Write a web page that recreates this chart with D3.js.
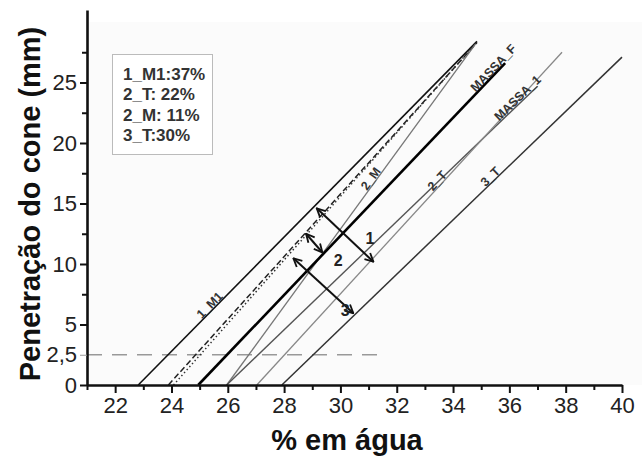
<!DOCTYPE html>
<html>
<head>
<meta charset="utf-8">
<script src="https://cdn.jsdelivr.net/npm/d3@7"></script>
<style>
  body { margin: 0; background: #fff; }
  svg { display: block; font-family: 'Liberation Sans', Arial, sans-serif; }
</style>
</head>
<body>
<svg width="642" height="461"></svg>
<script>
// cone penetration lines: % water where penetration = 0, and upper end point
const lineNames = ['1_M1', 'dash', 'dot', '2_M', 'MASSA_F', 'MASSA_1', '2_T', '3_T'];
const lineLabels = ['1_M1', '', '', '2_M', 'MASSA_F', 'MASSA_1', '2_T', '3_T'];
const startX = [22.82, 23.89, 24.07, 25.96, 24.95, 25.96, 27.03, 27.92];
const endX = [34.85, 34.85, 34.8, 34.8, 35.85, 37.0, 37.87, 40.0];
const endY = [28.4, 28.3, 28.2, 28.2, 26.6, 24.7, 27.5, 27.1];
const labelY = [6.3, 0, 0, 16.8, 25.9, 23.4, 16.6, 16.9];

// double arrows between lines
const arrowNames = ['1', '2', '3'];
const arrowX1 = [29.16, 28.78, 28.33];
const arrowY1 = [14.6, 12.5, 10.47];
const arrowX2 = [31.17, 29.36, 30.46];
const arrowY2 = [10.19, 10.95, 5.93];
const arrowLabelX = [31.05, 29.92, 30.17];
const arrowLabelY = [12.15, 10.33, 6.2];

const legendRows = ['1_M1:37%', '2_T: 22%', '2_M: 11%', '3_T:30%'];

const xMajor = [22, 24, 26, 28, 30, 32, 34, 36, 38, 40];
const xMinor = [21, 23, 25, 27, 29, 31, 33, 35, 37, 39];
const yMajor = [0, 5, 10, 15, 20, 25];
const yMinor = [7.5, 12.5, 17.5, 22.5, 27.5];
const liquidLimit = 2.5;
const liquidLimitEnd = 31.3;

const styles = {
  '1_M1': { stroke: '#111', width: 1.6, dash: null },
  dash: { stroke: '#222', width: 1.5, dash: '6,3' },
  dot: { stroke: '#333', width: 1.5, dash: '1.5,2.5' },
  '2_M': { stroke: '#777', width: 1.3, dash: null },
  MASSA_F: { stroke: '#000', width: 2.6, dash: null },
  MASSA_1: { stroke: '#555', width: 1.4, dash: null },
  '2_T': { stroke: '#888', width: 1.3, dash: null },
  '3_T': { stroke: '#333', width: 1.5, dash: null }
};

const svg = d3.select('svg');
const x = d3.scaleLinear().domain([21, 40]).range([87, 622]);
const y = d3.scaleLinear().domain([0, 31]).range([385, 9.9]);

svg.append('rect')
    .attr('x', 88).attr('y', 22)
    .attr('width', 554).attr('height', 363)
    .attr('fill', '#fbfbfb');

const defs = svg.append('defs');
defs.append('marker')
    .attr('id', 'head')
    .attr('viewBox', '0 0 12 12')
    .attr('refX', 11).attr('refY', 6)
    .attr('markerUnits', 'userSpaceOnUse')
    .attr('markerWidth', 10).attr('markerHeight', 11)
    .attr('orient', 'auto-start-reverse')
  .append('path')
    .attr('d', 'M1,1 L11,6 L1,11')
    .attr('fill', 'none')
    .attr('stroke', '#111')
    .attr('stroke-width', 2.2);

// 2,5 mm reference line
svg.append('line')
    .attr('x1', x(21)).attr('x2', x(liquidLimitEnd))
    .attr('y1', y(liquidLimit)).attr('y2', y(liquidLimit))
    .attr('stroke', '#999')
    .attr('stroke-width', 1.6)
    .attr('stroke-dasharray', '15,10');

const lines = lineNames.map((n, i) => ({
  name: n, label: lineLabels[i], x0: startX[i], x1: endX[i], y1: endY[i], ly: labelY[i]
}));

svg.append('g')
  .selectAll('line')
  .data(lines)
  .enter().append('line')
    .attr('x1', d => x(d.x0)).attr('y1', y(0))
    .attr('x2', d => x(d.x1)).attr('y2', d => y(d.y1))
    .attr('stroke', d => styles[d.name].stroke)
    .attr('stroke-width', d => styles[d.name].width)
    .attr('stroke-dasharray', d => styles[d.name].dash);

svg.append('g')
  .selectAll('text')
  .data(lines.filter(d => d.label))
  .enter().append('text')
    .attr('transform', d => {
      const t = d.ly / d.y1;
      const px = x(d.x0 + t * (d.x1 - d.x0));
      const py = y(d.ly);
      const ang = Math.atan2(y(d.y1) - y(0), x(d.x1) - x(d.x0)) * 180 / Math.PI;
      return `translate(${px},${py}) rotate(${ang})`;
    })
    .attr('dy', -1)
    .attr('text-anchor', 'middle')
    .attr('font-size', 12.5)
    .attr('font-weight', 'bold')
    .attr('fill', '#333')
    .text(d => d.label);

// arrows
const arrows = arrowNames.map((n, i) => ({
  name: n, x1: arrowX1[i], y1: arrowY1[i], x2: arrowX2[i], y2: arrowY2[i], lx: arrowLabelX[i], ly: arrowLabelY[i]
}));

svg.append('g')
  .selectAll('line')
  .data(arrows)
  .enter().append('line')
    .attr('x1', d => x(d.x1)).attr('y1', d => y(d.y1))
    .attr('x2', d => x(d.x2)).attr('y2', d => y(d.y2))
    .attr('stroke', '#111')
    .attr('stroke-width', 2)
    .attr('marker-start', 'url(#head)')
    .attr('marker-end', 'url(#head)');

svg.append('g')
  .selectAll('text')
  .data(arrows)
  .enter().append('text')
    .attr('x', d => x(d.lx)).attr('y', d => y(d.ly))
    .attr('dy', '0.35em')
    .attr('text-anchor', 'middle')
    .attr('font-size', 16)
    .attr('font-weight', 'bold')
    .attr('fill', '#222')
    .text(d => d.name);

// axes
const fmt = d => String(d).replace('.', ',');

const gx = svg.append('g').attr('transform', `translate(0,${y(0)})`);
gx.call(d3.axisBottom(x).tickValues(xMajor).tickSize(8).tickSizeOuter(0).tickPadding(4).tickFormat(fmt));
gx.append('g').call(d3.axisBottom(x).tickValues(xMinor).tickSize(5).tickFormat(''))
  .select('.domain').remove();

const gy = svg.append('g').attr('transform', `translate(${x(21)},0)`);
gy.call(d3.axisLeft(y).tickValues(yMajor).tickSize(7).tickSizeOuter(0).tickPadding(3).tickFormat(fmt));
gy.append('g').call(d3.axisLeft(y).tickValues(yMinor).tickSize(5).tickFormat(''))
  .select('.domain').remove();
gy.append('g').call(d3.axisLeft(y).tickValues([liquidLimit]).tickSize(7).tickPadding(3).tickFormat(fmt))
  .call(g => g.select('.domain').remove())
  .call(g => g.selectAll('.tick line').attr('stroke', '#999'));

svg.selectAll('.domain').attr('stroke', '#111').attr('stroke-width', 2.6);
svg.selectAll('.tick line').filter(function () { return d3.select(this).attr('stroke') !== '#999'; })
    .attr('stroke', '#111').attr('stroke-width', 2);
svg.selectAll('.tick text')
    .attr('font-family', "'Liberation Sans', Arial, sans-serif")
    .attr('font-size', 22)
    .attr('fill', '#222');

// axis titles
svg.append('text')
    .attr('transform', 'translate(40,204) rotate(-90)')
    .attr('text-anchor', 'middle')
    .attr('font-size', 29)
    .attr('font-weight', 'bold')
    .attr('fill', '#111')
    .text('Penetração do cone (mm)');

svg.append('text')
    .attr('x', 347).attr('y', 450)
    .attr('text-anchor', 'middle')
    .attr('font-size', 29)
    .attr('font-weight', 'bold')
    .attr('fill', '#111')
    .text('% em água');

// legend
const legend = svg.append('g');
legend.append('rect')
    .attr('x', 112.5).attr('y', 54.5)
    .attr('width', 100).attr('height', 100)
    .attr('fill', '#fff')
    .attr('stroke', '#bbb');
legend.selectAll('text')
  .data(legendRows)
  .enter().append('text')
    .attr('x', 123)
    .attr('y', (d, i) => 80 + i * 20.3)
    .attr('font-size', 17)
    .attr('font-weight', 'bold')
    .attr('fill', '#333')
    .text(d => d);
</script>
</body>
</html>
